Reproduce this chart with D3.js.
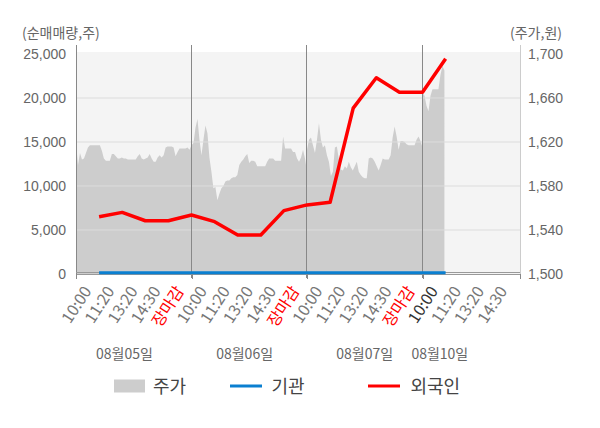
<!DOCTYPE html>
<html>
<head>
<meta charset="utf-8">
<script src="https://cdn.jsdelivr.net/npm/d3@7"></script>
<style>
  body { margin: 0; background: #fff; }
  svg { font-family: "Noto Sans CJK KR", "Noto Sans", sans-serif; }
</style>
</head>
<body>
<div id="chart"></div>
<script>
// 날짜 / x축 라벨
const dates = ['08월05일', '08월06일', '08월07일', '08월10일']
const timeLabels = [
  '10:00', '11:20', '13:20', '14:30', '장마감',
  '10:00', '11:20', '13:20', '14:30', '장마감',
  '10:00', '11:20', '13:20', '14:30', '장마감',
  '10:00', '11:20', '13:20', '14:30'
]
const leftTicks = [0, 5000, 10000, 15000, 20000, 25000]
const rightTicks = [1500, 1540, 1580, 1620, 1660, 1700]

// 순매매량 (누적), 라벨 위치마다 한 점
const foreign = [6500, 7000, 6050, 6050, 6700, 5950, 4430, 4430, 7200, 7850, 8150, 18850, 22300, 20650, 20650, 24450]
const institution = [150, 150, 150, 150, 150, 150, 150, 150, 150, 150, 150, 150, 150, 150, 150, 150]

// 주가 (일별 분 단위 샘플)
const priceDay1 = [1619, 1599, 1610, 1604, 1605, 1610, 1615, 1617, 1617, 1617, 1617, 1617, 1617, 1612, 1605, 1603,
  1603, 1603, 1609, 1609, 1607, 1605, 1605, 1606, 1605, 1605, 1604, 1604, 1604, 1604, 1604, 1607, 1609, 1605,
  1604, 1605, 1606, 1609, 1605, 1602, 1602, 1606, 1608, 1606, 1608, 1615, 1616, 1616, 1616, 1615, 1607, 1611,
  1614, 1614, 1614, 1614, 1615, 1613]
const priceDay2 = [1617, 1619, 1633, 1641, 1622, 1608, 1622, 1635, 1628, 1606, 1593, 1578, 1579, 1567, 1573, 1578,
  1580, 1584, 1585, 1585, 1587, 1588, 1588, 1590, 1599, 1602, 1604, 1607, 1609, 1601, 1603, 1603, 1602, 1598,
  1598, 1598, 1598, 1598, 1602, 1605, 1605, 1605, 1603, 1603, 1603, 1603, 1625, 1614, 1614, 1614, 1614, 1611,
  1611, 1605, 1602, 1606, 1613, 1605, 1593]
const priceDay3 = [1613, 1622, 1624, 1617, 1610, 1622, 1637, 1622, 1615, 1617, 1608, 1602, 1589, 1593, 1615, 1616,
  1604, 1595, 1594, 1598, 1596, 1602, 1597, 1594, 1598, 1602, 1593, 1590, 1588, 1587, 1587, 1605, 1606, 1605,
  1602, 1598, 1594, 1599, 1605, 1604, 1604, 1604, 1608, 1624, 1634, 1625, 1613, 1621, 1621, 1620, 1618, 1617,
  1617, 1617, 1617, 1622, 1625, 1621, 1615]
const priceDay4 = [1665, 1662, 1653, 1648, 1662, 1668, 1668, 1668, 1668, 1681, 1689, 1685]

const width = 600
const height = 428
const plot = { left: 76, right: 520, top: 52, bottom: 274 }
const slotsPerDay = 5
const pointsPerDay = 58
const slotMax = 19.22
const dateSlotPos = [2.1, 7.3, 12.5, 15.75] // 날짜 라벨 위치

const svg = d3.select('#chart').append('svg')
  .attr('width', width).attr('height', height)

const x = d3.scaleLinear().domain([0, slotMax]).range([plot.left, plot.right])
const yL = d3.scaleLinear().domain([0, 25000]).range([plot.bottom, 54])
const yR = d3.scaleLinear().domain([1500, 1700]).range([plot.bottom, 54])

// 배경
svg.append('rect')
  .attr('x', plot.left).attr('y', plot.top)
  .attr('width', plot.right - plot.left).attr('height', plot.bottom - plot.top)
  .attr('fill', '#f4f4f4')

// 주가 area
const priceData = []
;[priceDay1, priceDay2, priceDay3, priceDay4].forEach((arr, d) => {
  arr.forEach((p, i) => priceData.push({ s: d * slotsPerDay + i * slotsPerDay / pointsPerDay, p }))
})
svg.append('path')
  .datum(priceData)
  .attr('fill', '#cdcdcd')
  .attr('d', d3.area().x(d => x(d.s)).y0(yR(1500)).y1(d => yR(d.p)))

// 가로 그리드
svg.append('g').selectAll('line')
  .data(leftTicks.filter(t => t > 0 && t < 25000))
  .join('line')
  .attr('x1', plot.left).attr('x2', plot.right)
  .attr('y1', d => yL(d)).attr('y2', d => yL(d))
  .attr('stroke', '#dcdcdc')

// 날짜 구분선
const dayBounds = [5, 10, 15]
svg.append('g').selectAll('line')
  .data(dayBounds)
  .join('line')
  .attr('x1', d => Math.round(x(d)) - 0.5).attr('x2', d => Math.round(x(d)) - 0.5)
  .attr('y1', 45).attr('y2', plot.bottom + 4)
  .attr('stroke', '#888')

// 축선
svg.append('line')
  .attr('x1', plot.left + 0.5).attr('x2', plot.left + 0.5)
  .attr('y1', 45).attr('y2', plot.bottom + 4)
  .attr('stroke', '#888')
svg.append('line')
  .attr('x1', plot.right + 0.5).attr('x2', plot.right + 0.5)
  .attr('y1', 45).attr('y2', plot.bottom + 4)
  .attr('stroke', '#ccc')
svg.append('line')
  .attr('x1', plot.left).attr('x2', plot.right)
  .attr('y1', plot.bottom - 1.5).attr('y2', plot.bottom - 1.5)
  .attr('stroke', '#999')
svg.append('line')
  .attr('x1', plot.left).attr('x2', plot.right)
  .attr('y1', plot.bottom + 0.5).attr('y2', plot.bottom + 0.5)
  .attr('stroke', '#999')

// 기관 / 외국인 라인
const line = d3.line().x((d, i) => x(i + 1)).y(d => yL(d))
svg.append('path')
  .datum(institution)
  .attr('fill', 'none').attr('stroke', '#0a7fd0').attr('stroke-width', 3)
  .attr('d', line)
svg.append('path')
  .datum(foreign)
  .attr('fill', 'none').attr('stroke', '#ff0000').attr('stroke-width', 3.5)
  .attr('stroke-linejoin', 'round')
  .attr('d', line)

// y축 라벨
const yAxisL = d3.axisLeft(yL).tickValues(leftTicks).tickFormat(d3.format(',')).tickSize(0).tickPadding(10)
const gL = svg.append('g').attr('transform', `translate(${plot.left},0)`).call(yAxisL)
gL.select('.domain').remove()
gL.selectAll('text').attr('fill', '#666').attr('font-size', 14)

const yAxisR = d3.axisRight(yR).tickValues(rightTicks).tickFormat(d3.format(',')).tickSize(0).tickPadding(8)
const gR = svg.append('g').attr('transform', `translate(${plot.right},0)`).call(yAxisR)
gR.select('.domain').remove()
gR.selectAll('text').attr('fill', '#666').attr('font-size', 14)

// 축 제목
svg.append('text').attr('x', 22).attr('y', 38)
  .attr('font-size', 14).attr('fill', '#666').text('(순매매량,주)')
svg.append('text').attr('x', 562).attr('y', 38).attr('text-anchor', 'end')
  .attr('font-size', 14).attr('fill', '#666').text('(주가,원)')

// x축 눈금
svg.append('g').selectAll('line')
  .data([0, ...dayBounds, slotMax])
  .join('line')
  .attr('x1', d => Math.round(x(d)) + 0.5).attr('x2', d => Math.round(x(d)) + 0.5)
  .attr('y1', plot.bottom).attr('y2', plot.bottom + 5)
  .attr('stroke', '#888')

// x축 라벨 (회전)
svg.append('g').selectAll('text')
  .data(timeLabels)
  .join('text')
  .attr('transform', (d, i) => `translate(${x(i + 1) - 7},291) rotate(-57)`)
  .attr('text-anchor', 'end')
  .attr('font-size', 16)
  .attr('fill', (d, i) => d === '장마감' ? '#ff0000' : (i === 15 ? '#333' : '#777'))
  .text(d => d)

// 날짜 라벨
svg.append('g').selectAll('text')
  .data(dates)
  .join('text')
  .attr('x', (d, i) => x(dateSlotPos[i]))
  .attr('y', 359)
  .attr('text-anchor', 'middle')
  .attr('font-size', 14)
  .attr('fill', '#666')
  .text(d => d)

// 범례
const legend = svg.append('g').attr('font-size', 18).attr('fill', '#444')
legend.append('rect').attr('x', 114).attr('y', 379.5).attr('width', 31).attr('height', 13).attr('fill', '#cdcdcd')
legend.append('text').attr('x', 153).attr('y', 393).text('주가')
legend.append('line').attr('x1', 230).attr('x2', 262).attr('y1', 386).attr('y2', 386)
  .attr('stroke', '#0a7fd0').attr('stroke-width', 3)
legend.append('text').attr('x', 271.5).attr('y', 393).text('기관')
legend.append('line').attr('x1', 368).attr('x2', 400).attr('y1', 386).attr('y2', 386)
  .attr('stroke', '#ff0000').attr('stroke-width', 3)
legend.append('text').attr('x', 410.5).attr('y', 393).text('외국인')
</script>
</body>
</html>
